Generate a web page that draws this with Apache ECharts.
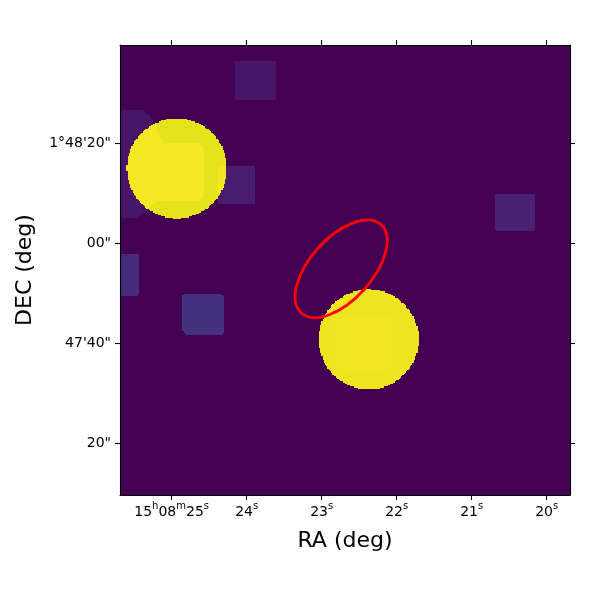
<!DOCTYPE html>
<html><head><meta charset="utf-8">
<style>html,body{margin:0;padding:0;background:#fff}#c{width:600px;height:600px}</style>
<script src="https://cdn.jsdelivr.net/npm/echarts@6/dist/echarts.min.js"></script>
</head><body><div id="c"></div>
<script>
// RA in seconds of 15h08m, DEC in arcsec above 1°47'00"
const raExtent = [19.689, 25.689];
const decExtent = [9.66, 99.66];
const raTicks = [25, 24, 23, 22, 21, 20];
const raTickLabels = ['{n|15}{u|h}{n|08}{u|m}{n|25}{u|s}', '{n|24}{u|s}', '{n|23}{u|s}', '{n|22}{u|s}', '{n|21}{u|s}', '{n|20}{u|s}'];
const decTicks = [80, 60, 40, 20];
const decTickLabels = ['1°48\'20"', '00"', '47\'40"', '20"'];

// Image levels
const backgroundLevel = 0;
const patchLevels = [0.06, 0.06, 0.08, 0.09, 0.12, 0.14];
const patchOutlines = [
  [[24.156,96.3],[23.6,96.3],[23.6,89.06],[23.66,88.66],[24.156,88.66]],
  [[25.689,86.66],[25.38,86.66],[25.287,85.26],[25.127,80.66],[25.127,68.46],[25.22,68.26],[25.38,66.06],[25.46,65.06],[25.689,65.06]],
  [[24.396,75.32],[23.889,75.32],[23.889,68],[24.396,68]],
  [[20.689,70],[20.156,70],[20.156,62.86],[20.18,62.32],[20.66,62.32],[20.689,62.86]],
  [[25.689,58],[25.443,58],[25.443,50.06],[25.464,49.32],[25.689,49.32]],
  [[24.82,50],[24.353,50],[24.311,49.32],[24.311,42.3],[24.33,41.66],[24.793,41.66],[24.862,42.66],[24.862,49.32]]
];
// Bright discs: [ra, dec, radius arcsec, level]
const discs = [[24.932,75.0,10,0.96],[22.373,40.8,10,0.975]];
// Overlaps shown only inside a disc
const overlapDisc = [0, 0, 0, 1];
const overlapLevels = [0.99, 0.99, 0.99, 0.982];
const overlapOutlines = [
  patchOutlines[1],
  [[25.153,80.26],[24.647,80.26],[24.58,79.26],[24.58,69.46],[24.647,68.46],[25.153,68.46]],
  patchOutlines[2],
  [[22.757,45.66],[22.117,45.66],[22.077,45.06],[22.077,35.26],[22.117,34.66],[22.757,34.66],[22.797,35.26],[22.797,45.06]]
];
// Red ellipse: centre ra, dec, semi-axes arcsec, tilt degrees
const ellipse = [22.74, 54.9, 11.9, 6.2, 48];

const viridis = ['#440154','#471365','#482475','#463480','#414487','#3b528b','#355f8d','#2f6c8e','#2a788e','#25848e','#21918c','#1e9c89','#22a884','#2fb47c','#44bf70','#5ec962','#7ad151','#9bd93c','#bddf26','#dfe318','#fde725'];

function inPoly(x, y, p) {
  let c = false;
  for (let i = 0, j = p.length - 1; i < p.length; j = i++) {
    if ((p[i][1] > y) !== (p[j][1] > y) && x < (p[j][0] - p[i][0]) * (y - p[i][1]) / (p[j][1] - p[i][1]) + p[i][0]) c = !c;
  }
  return c;
}
function inDisc(x, y, d) {
  const dx = (x - d[0]) * 15, dy = y - d[1];
  return dx * dx + dy * dy <= d[2] * d[2];
}
const regions = [];
regions.push({ref: [raExtent[0], decExtent[0]], level: backgroundLevel, test: () => true});
patchOutlines.forEach((p, i) => regions.push({ref: p[0], level: patchLevels[i], test: (x, y) => inPoly(x, y, p)}));
discs.forEach(d => regions.push({ref: d, level: d[3], test: (x, y) => inDisc(x, y, d)}));
overlapOutlines.forEach((p, i) => regions.push({ref: p[0], level: overlapLevels[i], test: (x, y) => inPoly(x, y, p) && inDisc(x, y, discs[overlapDisc[i]])}));

const CELL_DEC = 0.25, CELL_RA = 0.25 / 15, CELLS = 360;
function renderRegion(params, api) {
  const r = regions[api.value(3)], color = api.visual('color'), children = [];
  for (let row = 0; row < CELLS; row++) {
    const decTop = decExtent[1] - row * CELL_DEC, y = decTop - CELL_DEC / 2;
    let start = -1;
    for (let col = 0; col <= CELLS; col++) {
      const on = col < CELLS && r.test(raExtent[1] - (col + 0.5) * CELL_RA, y);
      if (on && start < 0) start = col;
      if (!on && start >= 0) {
        const a = api.coord([raExtent[1] - start * CELL_RA, decTop]);
        const b = api.coord([raExtent[1] - col * CELL_RA, decTop - CELL_DEC]);
        const x0 = Math.round(a[0]), y0 = Math.round(a[1]), x1 = Math.round(b[0]), y1 = Math.round(b[1]);
        if (y1 > y0) children.push({type: 'rect', shape: {x: x0, y: y0, width: x1 - x0, height: y1 - y0}, style: {fill: color}, silent: true});
        start = -1;
      }
    }
  }
  return {type: 'group', children};
}
function renderEllipse(params, api) {
  const c = api.coord([api.value(0), api.value(1)]);
  const pxPerArcsec = api.size([0, 1])[1];
  return {type: 'ellipse', x: c[0], y: c[1], rotation: api.value(4) * Math.PI / 180,
    shape: {cx: 0, cy: 0, rx: api.value(2) * pxPerArcsec, ry: api.value(3) * pxPerArcsec},
    style: {fill: 'none', stroke: '#ff0000', lineWidth: 2.8}, silent: true};
}
const font = 'DejaVu Sans', tc = '#000';
const line = {show: true, onZero: false, lineStyle: {color: tc, width: 1.1}};
const tick = vals => ({show: true, inside: false, length: 5, lineStyle: {color: tc, width: 1.1}, customValues: vals});
const xBase = {type: 'value', inverse: true, min: raExtent[0], max: raExtent[1], splitLine: {show: false}, axisLine: line, z: 10};
const yBase = {type: 'value', min: decExtent[0], max: decExtent[1], splitLine: {show: false}, axisLine: line, z: 10};

const chart = echarts.init(document.getElementById('c'), null, {renderer: 'canvas'});
chart.setOption({
  animation: false,
  backgroundColor: '#fff',
  textStyle: {fontFamily: font},
  grid: {left: 120, top: 45, width: 450, height: 450, containLabel: false},
  visualMap: {show: false, type: 'continuous', seriesIndex: 0, dimension: 2, min: 0, max: 1, inRange: {color: viridis}},
  xAxis: [
    Object.assign({}, xBase, {position: 'bottom', name: 'RA (deg)', nameLocation: 'middle', nameGap: 35,
      nameTextStyle: {fontFamily: font, fontSize: 22, color: tc},
      axisTick: tick(raTicks),
      axisLabel: {show: true, customValues: raTicks, margin: 6, color: tc, fontFamily: font, fontSize: 14,
        formatter: v => raTickLabels[raTicks.indexOf(v)],
        rich: {n: {fontFamily: font, fontSize: 14, lineHeight: 18, color: tc, verticalAlign: 'bottom'},
               u: {fontFamily: font, fontSize: 10, lineHeight: 18, color: tc, verticalAlign: 'top'}}}}),
    Object.assign({}, xBase, {position: 'top', axisTick: tick(raTicks), axisLabel: {show: false}})
  ],
  yAxis: [
    Object.assign({}, yBase, {position: 'left', name: 'DEC (deg)', nameLocation: 'middle', nameGap: 84,
      nameTextStyle: {fontFamily: font, fontSize: 22, color: tc},
      axisTick: tick(decTicks),
      axisLabel: {show: true, customValues: decTicks, margin: 9, color: tc, fontFamily: font, fontSize: 14, padding: [2, 0, 0, 0],
        formatter: v => decTickLabels[decTicks.indexOf(v)]}}),
    Object.assign({}, yBase, {position: 'right', axisTick: tick(decTicks), axisLabel: {show: false}})
  ],
  series: [
    {type: 'custom', coordinateSystem: 'cartesian2d', xAxisIndex: 0, yAxisIndex: 0, clip: true, silent: true,
     renderItem: renderRegion, dimensions: ['ra', 'dec', 'level', 'id'], encode: {x: 0, y: 1},
     data: regions.map((r, i) => [r.ref[0], r.ref[1], r.level, i])},
    {type: 'custom', coordinateSystem: 'cartesian2d', xAxisIndex: 0, yAxisIndex: 0, clip: true, silent: true, z: 3,
     renderItem: renderEllipse, encode: {x: 0, y: 1},
     data: [ellipse]}
  ]
});
</script></body></html>
